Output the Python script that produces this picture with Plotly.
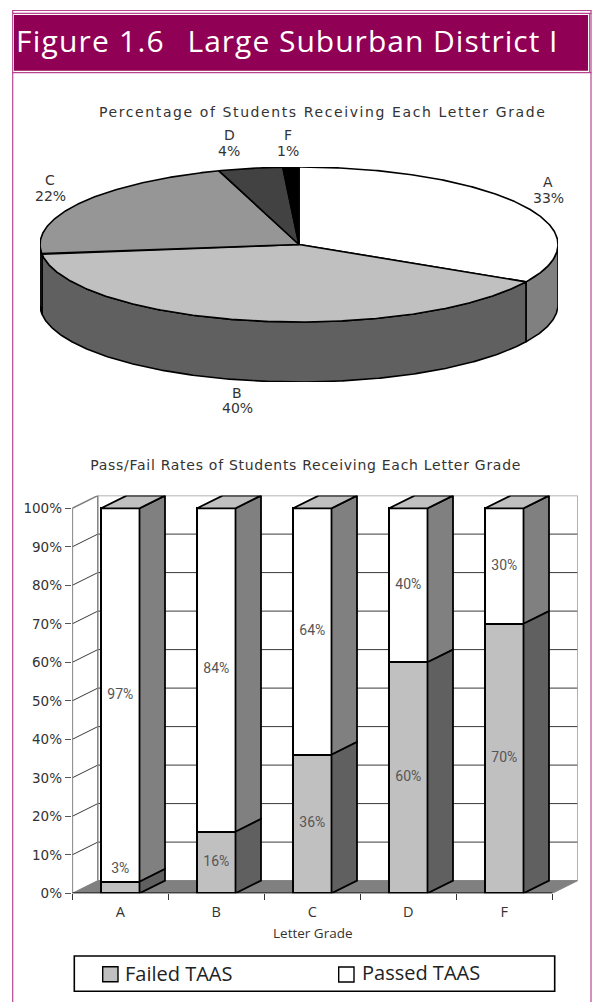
import numpy as np
import plotly.graph_objects as go

# ---------- data ----------
GRADES = ["A", "B", "C", "D", "F"]
SHARE_PCT = [33, 40, 22, 4, 1]
FAILED_PCT = [3, 16, 36, 60, 70]
PASSED_PCT = [97, 84, 64, 40, 30]
SERIES_NAMES = ["Failed TAAS", "Passed TAAS"]
Y_TICKS = [0, 10, 20, 30, 40, 50, 60, 70, 80, 90, 100]
HEADER_LEFT = "Figure 1.6"
HEADER_RIGHT = "Large Suburban District I"
PIE_TITLE = "Percentage of Students Receiving Each Letter Grade"
BAR_TITLE = "Pass/Fail Rates of Students Receiving Each Letter Grade"
X_TITLE = "Letter Grade"

# ---------- page geometry (pixels) ----------
W, H = 592, 1002
FIG_H = H + 8
def px(x): return x / W
def py(y): return 1 - y / H

PINK = "#B8448F"
WINE = "#900055"
INK = "#333333"
SIDE_FONT = "DejaVu Sans"

fig = go.Figure()

# ---------- pie (elliptical, drawn on hidden axes) ----------
PIE_L, PIE_R, PIE_T, PIE_BOT = 40, 558, 167, 382
B_PX = 77.5
DEPTH = 60 / B_PX
TOP_COL = ["#FFFFFF", "#C0C0C0", "#969696", "#424242", "#000000"]
SIDE_COL = ["#808080", "#606060", "#4B4B4B", "#303030", "#000000"]

edges = np.cumsum([0] + SHARE_PCT) / sum(SHARE_PCT) * 2 * np.pi
def arc(t0, t1):
    n = max(2, int(np.degrees(t1 - t0)) * 2)
    t = np.linspace(t0, t1, n)
    return np.sin(t), np.cos(t)

def pie_poly(xs, ys, fill):
    fig.add_trace(go.Scatter(x=xs, y=ys, mode="lines", fill="toself", fillcolor=fill,
                             line=dict(color="black", width=1.6), hoverinfo="skip",
                             showlegend=False, xaxis="x3", yaxis="y3", cliponaxis=False))

for i in range(len(SHARE_PCT)):
    lo, hi = max(edges[i], np.pi / 2), min(edges[i + 1], 3 * np.pi / 2)
    if hi > lo:
        ax, ay = arc(lo, hi)
        pie_poly(np.r_[ax, ax[::-1], ax[0]], np.r_[ay, ay[::-1] - DEPTH, ay[0]], SIDE_COL[i])
for i in range(len(SHARE_PCT)):
    ax, ay = arc(edges[i], edges[i + 1])
    pie_poly(np.r_[0, ax, 0], np.r_[0, ay, 0], TOP_COL[i])

# ---------- stacked 3-D bars ----------
DEPTH_X = 25.5 / 96           # category units
DEPTH_Y = 12.7 / 3.85         # percent units
BAR_W = 0.40
pos = list(range(len(GRADES)))
x_lo, x_hi = -0.5, len(GRADES) - 0.5
PL_L, PL_R, PL_T, PL_B = 72.3, 72.3 + 96 * (len(GRADES) + DEPTH_X), 893.3 - 3.85 * (100 + DEPTH_Y), 893.3

def base_trace(xs, ys, **kw):
    fig.add_trace(go.Scatter(x=xs, y=ys, hoverinfo="skip", showlegend=False,
                             xaxis="x", yaxis="y", cliponaxis=False, **kw))

def top_poly(xs, ys, fill):
    fig.add_trace(go.Scatter(x=xs, y=ys, mode="lines", fill="toself", fillcolor=fill,
                             line=dict(color="black", width=1.8), hoverinfo="skip",
                             showlegend=False, xaxis="x2", yaxis="y2", cliponaxis=False))

# floor
base_trace([x_lo, x_hi, x_hi + DEPTH_X, x_lo + DEPTH_X, x_lo], [0, 0, DEPTH_Y, DEPTH_Y, 0],
           mode="lines", fill="toself", fillcolor="#808080", line=dict(color="#808080", width=1))
# grid lines: side wall then back wall
gx, gy = [], []
for v in Y_TICKS[1:-1]:
    gx += [x_lo, x_lo + DEPTH_X, x_hi + DEPTH_X, None]
    gy += [v, v + DEPTH_Y, v + DEPTH_Y, None]
base_trace(gx, gy, mode="lines", line=dict(color="#3A3A3A", width=1))
# wall frame
base_trace([x_lo, x_lo + DEPTH_X, x_lo + DEPTH_X], [100, 100 + DEPTH_Y, DEPTH_Y],
           mode="lines", line=dict(color="#808080", width=1.5))
base_trace([x_lo + DEPTH_X, x_hi + DEPTH_X, x_hi + DEPTH_X], [100 + DEPTH_Y, 100 + DEPTH_Y, DEPTH_Y],
           mode="lines", line=dict(color="#9A9A9A", width=1.5))
base_trace([x_lo, x_lo], [0, 100], mode="lines", line=dict(color="#666666", width=1.6))
base_trace([x_lo, x_hi], [0, 0], mode="lines", line=dict(color="black", width=1.5))

# front faces
fig.add_trace(go.Bar(x=pos, y=FAILED_PCT, width=BAR_W, name=SERIES_NAMES[0], marker=dict(color="#C0C0C0", line=dict(color="black", width=1.8)),
                     xaxis="x2", yaxis="y2", showlegend=False, hoverinfo="skip"))
fig.add_trace(go.Bar(x=pos, y=PASSED_PCT, width=BAR_W, name=SERIES_NAMES[1], marker=dict(color="#FFFFFF", line=dict(color="black", width=1.8)),
                     xaxis="x2", yaxis="y2", showlegend=False, hoverinfo="skip"))

# side and top faces
for p, f in zip(pos, FAILED_PCT):
    r = p + BAR_W / 2
    l = p - BAR_W / 2
    top_poly([r, r + DEPTH_X, r + DEPTH_X, r, r], [f, f + DEPTH_Y, 100 + DEPTH_Y, 100, f], "#808080")
    top_poly([r, r + DEPTH_X, r + DEPTH_X, r, r], [0, DEPTH_Y, f + DEPTH_Y, f, 0], "#606060")
    top_poly([l, l + DEPTH_X, r + DEPTH_X, r, l], [100, 100 + DEPTH_Y, 100 + DEPTH_Y, 100, 100], "#C0C0C0")

# data labels
lab_x, lab_y, lab_t = [], [], []
for p, f, q in zip(pos, FAILED_PCT, PASSED_PCT):
    lab_x += [p, p]
    lab_y += [f / 2 if f >= 10 else f + 3.2, f + q / 2]
    lab_t += [f"{f}%", f"{q}%"]
fig.add_trace(go.Scatter(x=lab_x, y=lab_y, text=lab_t, mode="text", hoverinfo="skip", showlegend=False,
                         textfont=dict(family="Roboto", size=14, color="#555555"),
                         xaxis="x2", yaxis="y2", cliponaxis=False))

# ---------- annotations ----------
ann = []
def label(x, y, text, size, family=SIDE_FONT, color=INK, anchor="center"):
    ann.append(dict(x=px(x), y=py(y), xref="paper", yref="paper", text=text, showarrow=False,
                    xanchor=anchor, yanchor="middle", font=dict(family=family, size=size, color=color),
                    borderpad=0, borderwidth=0))

label(22, 41, HEADER_LEFT, 30, "Open Sans", "#FFFFFF", "left")
label(200, 41, HEADER_RIGHT, 30, "Open Sans", "#FFFFFF", "left")
label(322, 111.5, PIE_TITLE, 14)
label(305, 465, BAR_TITLE, 14)
label(312.5, 933, X_TITLE, 13.5, "Open Sans")

pie_label_xy = [(548, 182), (237, 393), (50, 180), (229, 135), (288, 135)]
LINE_GAP = 15.5
for g, s, (x, y) in zip(GRADES, SHARE_PCT, pie_label_xy):
    label(x, y, g, 14)
    label(x, y + LINE_GAP, f"{s}%", 14)

label(125, 973, SERIES_NAMES[0], 20, "Open Sans", "#222222", "left")
label(362, 972, SERIES_NAMES[1], 20, "Open Sans", "#222222", "left")

# ---------- page furniture ----------
def rect(x0, y0, x1, y1, fill="rgba(0,0,0,0)", color=None, width=0):
    return dict(type="rect", xref="paper", yref="paper", x0=px(x0), x1=px(x1), y0=py(y0), y1=py(y1),
                fillcolor=fill, line=dict(color=color, width=width) if color else dict(width=0), layer="below")
def hline(x0, x1, y, color=PINK, width=1.2):
    return dict(type="line", xref="paper", yref="paper", x0=px(x0), x1=px(x1), y0=py(y), y1=py(y),
                line=dict(color=color, width=width), layer="below")
def vline(x, y0, y1, color=PINK, width=1.2):
    return dict(type="line", xref="paper", yref="paper", x0=px(x), x1=px(x), y0=py(y0), y1=py(y1),
                line=dict(color=color, width=width), layer="below")

shapes = [
    hline(12, 591.5, 10.5), hline(12, 591.5, 13.3),
    vline(12.7, 10, H), vline(591, 10, H),
    vline(589.6, 13, 73, width=1),
    rect(14, 15, 588, 70.8, fill=WINE),
    hline(12, 591.5, 72.7),
    # legend
    dict(type="rect", xref="paper", yref="paper", x0=px(74.3), x1=px(554.7), y0=py(956), y1=py(991.3),
         fillcolor="white", line=dict(color="black", width=1.6)),
    dict(type="rect", xref="paper", yref="paper", x0=px(102.7), x1=px(118), y0=py(966.7), y1=py(981.7),
         fillcolor="#C0C0C0", line=dict(color="black", width=1.4)),
    dict(type="rect", xref="paper", yref="paper", x0=px(338.7), x1=px(354), y0=py(967), y1=py(982),
         fillcolor="#FFFFFF", line=dict(color="black", width=1.4)),
]

hidden = dict(visible=False, showgrid=False, zeroline=False)
fig.update_layout(
    width=W, height=FIG_H, autosize=False, margin=dict(l=0, r=0, t=0, b=8),
    paper_bgcolor="white", plot_bgcolor="rgba(0,0,0,0)",
    barmode="stack", showlegend=False, annotations=ann, shapes=shapes,
    font=dict(family=SIDE_FONT, color=INK),
    xaxis=dict(domain=[px(PL_L), px(PL_R)], range=[x_lo, x_hi + DEPTH_X], anchor="y",
               tickvals=pos, ticktext=GRADES, ticks="", showgrid=False, zeroline=False, showline=False,
               ticklabelstandoff=8, tickfont=dict(family="Open Sans", size=14.5, color=INK),
               minor=dict(tickvals=[x_lo + i for i in range(len(GRADES) + 1)], ticks="outside",
                          ticklen=6, tickwidth=1, tickcolor="#333333", showgrid=False)),
    yaxis=dict(domain=[py(PL_B), py(PL_T)], range=[0, 100 + DEPTH_Y], anchor="x",
               tickvals=Y_TICKS, ticktext=[f"{v}%" for v in Y_TICKS], ticks="outside", ticklen=6.6,
               tickcolor="#555555", tickwidth=1, showgrid=False, zeroline=False, showline=False,
               tickfont=dict(family=SIDE_FONT, size=13.5, color=INK)),
    xaxis2=dict(range=[x_lo, x_hi + DEPTH_X], overlaying="x", anchor="y2", **hidden),
    yaxis2=dict(range=[0, 100 + DEPTH_Y], overlaying="y", anchor="x2", **hidden),
    xaxis3=dict(domain=[px(PIE_L), px(PIE_R)], range=[-1, 1], anchor="y3", **hidden),
    yaxis3=dict(domain=[py(PIE_BOT), py(PIE_T)], range=[-1 - DEPTH, 1], anchor="x3", **hidden),
)

# the page has no margin in the reference; titles are letter-spaced there
post = """
document.body.style.margin = '0';
document.body.style.overflow = 'hidden';
var spacing = {%r: '1.6px', %r: '0.72px', %r: '1.2px', %r: '1px'};
document.querySelectorAll('.annotation-text').forEach(function (t) {
  var s = spacing[t.textContent];
  if (s) { t.style.letterSpacing = s; }
});
""" % (PIE_TITLE, BAR_TITLE, HEADER_LEFT, HEADER_RIGHT)

fig.write_html("out.html", post_script=post, config=dict(displayModeBar=False))
